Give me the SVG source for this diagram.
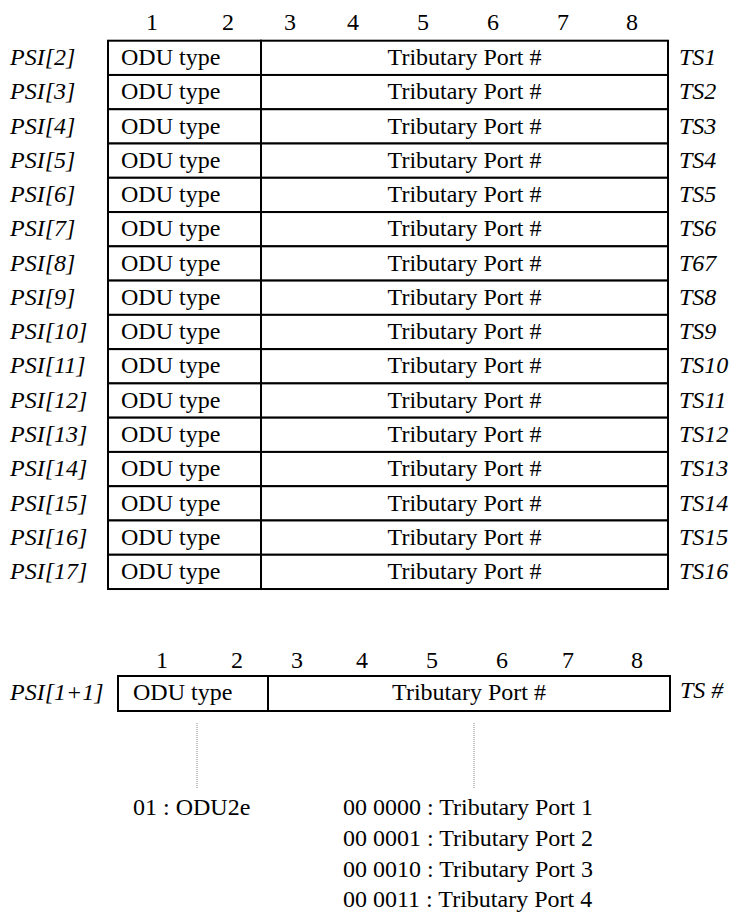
<svg xmlns="http://www.w3.org/2000/svg" width="736" height="915" viewBox="0 0 736 915">
<style>
text{font-family:"Liberation Serif","Times New Roman",serif;font-size:24px;fill:#000}
.it{font-style:italic}
.mid{text-anchor:middle}
.cell{fill:#fff;stroke:#000;stroke-width:2}
.dot{stroke:#999;stroke-width:1.2;stroke-dasharray:1 1;fill:none}
</style>
<rect width="736" height="915" fill="#fff"/>
<g id="header-top">
<text x="152" y="30" class="mid">1</text><text x="228" y="30" class="mid">2</text><text x="290" y="30" class="mid">3</text><text x="353" y="30" class="mid">4</text><text x="423" y="30" class="mid">5</text><text x="493" y="30" class="mid">6</text><text x="563" y="30" class="mid">7</text><text x="632" y="30" class="mid">8</text>
</g>
<g id="row2"><rect class="cell" x="108" y="40.7" width="153" height="34.27"/><rect class="cell" x="261" y="40.7" width="407" height="34.27"/><text x="10" y="65" class="it">PSI[2]</text><text x="121" y="65">ODU type</text><text x="464.5" y="65" class="mid">Tributary Port #</text><text x="679" y="65" class="it">TS1</text></g>
<g id="row3"><rect class="cell" x="108" y="74.97" width="153" height="34.27"/><rect class="cell" x="261" y="74.97" width="407" height="34.27"/><text x="10" y="99.27" class="it">PSI[3]</text><text x="121" y="99.27">ODU type</text><text x="464.5" y="99.27" class="mid">Tributary Port #</text><text x="679" y="99.27" class="it">TS2</text></g>
<g id="row4"><rect class="cell" x="108" y="109.24" width="153" height="34.27"/><rect class="cell" x="261" y="109.24" width="407" height="34.27"/><text x="10" y="133.54" class="it">PSI[4]</text><text x="121" y="133.54">ODU type</text><text x="464.5" y="133.54" class="mid">Tributary Port #</text><text x="679" y="133.54" class="it">TS3</text></g>
<g id="row5"><rect class="cell" x="108" y="143.51" width="153" height="34.27"/><rect class="cell" x="261" y="143.51" width="407" height="34.27"/><text x="10" y="167.81" class="it">PSI[5]</text><text x="121" y="167.81">ODU type</text><text x="464.5" y="167.81" class="mid">Tributary Port #</text><text x="679" y="167.81" class="it">TS4</text></g>
<g id="row6"><rect class="cell" x="108" y="177.78" width="153" height="34.27"/><rect class="cell" x="261" y="177.78" width="407" height="34.27"/><text x="10" y="202.08" class="it">PSI[6]</text><text x="121" y="202.08">ODU type</text><text x="464.5" y="202.08" class="mid">Tributary Port #</text><text x="679" y="202.08" class="it">TS5</text></g>
<g id="row7"><rect class="cell" x="108" y="212.05" width="153" height="34.27"/><rect class="cell" x="261" y="212.05" width="407" height="34.27"/><text x="10" y="236.35" class="it">PSI[7]</text><text x="121" y="236.35">ODU type</text><text x="464.5" y="236.35" class="mid">Tributary Port #</text><text x="679" y="236.35" class="it">TS6</text></g>
<g id="row8"><rect class="cell" x="108" y="246.32" width="153" height="34.27"/><rect class="cell" x="261" y="246.32" width="407" height="34.27"/><text x="10" y="270.62" class="it">PSI[8]</text><text x="121" y="270.62">ODU type</text><text x="464.5" y="270.62" class="mid">Tributary Port #</text><text x="679" y="270.62" class="it">T67</text></g>
<g id="row9"><rect class="cell" x="108" y="280.59" width="153" height="34.27"/><rect class="cell" x="261" y="280.59" width="407" height="34.27"/><text x="10" y="304.89" class="it">PSI[9]</text><text x="121" y="304.89">ODU type</text><text x="464.5" y="304.89" class="mid">Tributary Port #</text><text x="679" y="304.89" class="it">TS8</text></g>
<g id="row10"><rect class="cell" x="108" y="314.86" width="153" height="34.27"/><rect class="cell" x="261" y="314.86" width="407" height="34.27"/><text x="10" y="339.16" class="it">PSI[10]</text><text x="121" y="339.16">ODU type</text><text x="464.5" y="339.16" class="mid">Tributary Port #</text><text x="679" y="339.16" class="it">TS9</text></g>
<g id="row11"><rect class="cell" x="108" y="349.13" width="153" height="34.27"/><rect class="cell" x="261" y="349.13" width="407" height="34.27"/><text x="10" y="373.43" class="it">PSI[11]</text><text x="121" y="373.43">ODU type</text><text x="464.5" y="373.43" class="mid">Tributary Port #</text><text x="679" y="373.43" class="it">TS10</text></g>
<g id="row12"><rect class="cell" x="108" y="383.4" width="153" height="34.27"/><rect class="cell" x="261" y="383.4" width="407" height="34.27"/><text x="10" y="407.7" class="it">PSI[12]</text><text x="121" y="407.7">ODU type</text><text x="464.5" y="407.7" class="mid">Tributary Port #</text><text x="679" y="407.7" class="it">TS11</text></g>
<g id="row13"><rect class="cell" x="108" y="417.67" width="153" height="34.27"/><rect class="cell" x="261" y="417.67" width="407" height="34.27"/><text x="10" y="441.97" class="it">PSI[13]</text><text x="121" y="441.97">ODU type</text><text x="464.5" y="441.97" class="mid">Tributary Port #</text><text x="679" y="441.97" class="it">TS12</text></g>
<g id="row14"><rect class="cell" x="108" y="451.94" width="153" height="34.27"/><rect class="cell" x="261" y="451.94" width="407" height="34.27"/><text x="10" y="476.24" class="it">PSI[14]</text><text x="121" y="476.24">ODU type</text><text x="464.5" y="476.24" class="mid">Tributary Port #</text><text x="679" y="476.24" class="it">TS13</text></g>
<g id="row15"><rect class="cell" x="108" y="486.21" width="153" height="34.27"/><rect class="cell" x="261" y="486.21" width="407" height="34.27"/><text x="10" y="510.51" class="it">PSI[15]</text><text x="121" y="510.51">ODU type</text><text x="464.5" y="510.51" class="mid">Tributary Port #</text><text x="679" y="510.51" class="it">TS14</text></g>
<g id="row16"><rect class="cell" x="108" y="520.48" width="153" height="34.27"/><rect class="cell" x="261" y="520.48" width="407" height="34.27"/><text x="10" y="544.78" class="it">PSI[16]</text><text x="121" y="544.78">ODU type</text><text x="464.5" y="544.78" class="mid">Tributary Port #</text><text x="679" y="544.78" class="it">TS15</text></g>
<g id="row17"><rect class="cell" x="108" y="554.75" width="153" height="34.27"/><rect class="cell" x="261" y="554.75" width="407" height="34.27"/><text x="10" y="579.05" class="it">PSI[17]</text><text x="121" y="579.05">ODU type</text><text x="464.5" y="579.05" class="mid">Tributary Port #</text><text x="679" y="579.05" class="it">TS16</text></g>
<g id="header-bottom">
<text x="162" y="668" class="mid">1</text><text x="237" y="668" class="mid">2</text><text x="297" y="668" class="mid">3</text><text x="362" y="668" class="mid">4</text><text x="432" y="668" class="mid">5</text><text x="502" y="668" class="mid">6</text><text x="568" y="668" class="mid">7</text><text x="637" y="668" class="mid">8</text>
</g>
<g id="row-generic"><rect class="cell" x="118" y="676" width="150" height="35"/><rect class="cell" x="268" y="676" width="402" height="35"/><text x="10" y="700" class="it">PSI[1+1]</text><text x="133" y="700">ODU type</text><text x="469" y="700" class="mid">Tributary Port #</text><text x="680" y="698" class="it">TS #</text></g>
<g id="connectors"><line class="dot" x1="197" y1="723" x2="197" y2="788"/><line class="dot" x1="474" y1="723" x2="474" y2="788"/></g>
<g id="odu-legend"><text x="133" y="815">01 : ODU2e</text></g>
<g id="port-legend"><text x="343" y="815">00 0000 : Tributary Port 1</text><text x="343" y="846">00 0001 : Tributary Port 2</text><text x="343" y="877">00 0010 : Tributary Port 3</text><text x="343" y="907">00 0011 : Tributary Port 4</text></g>
</svg>
